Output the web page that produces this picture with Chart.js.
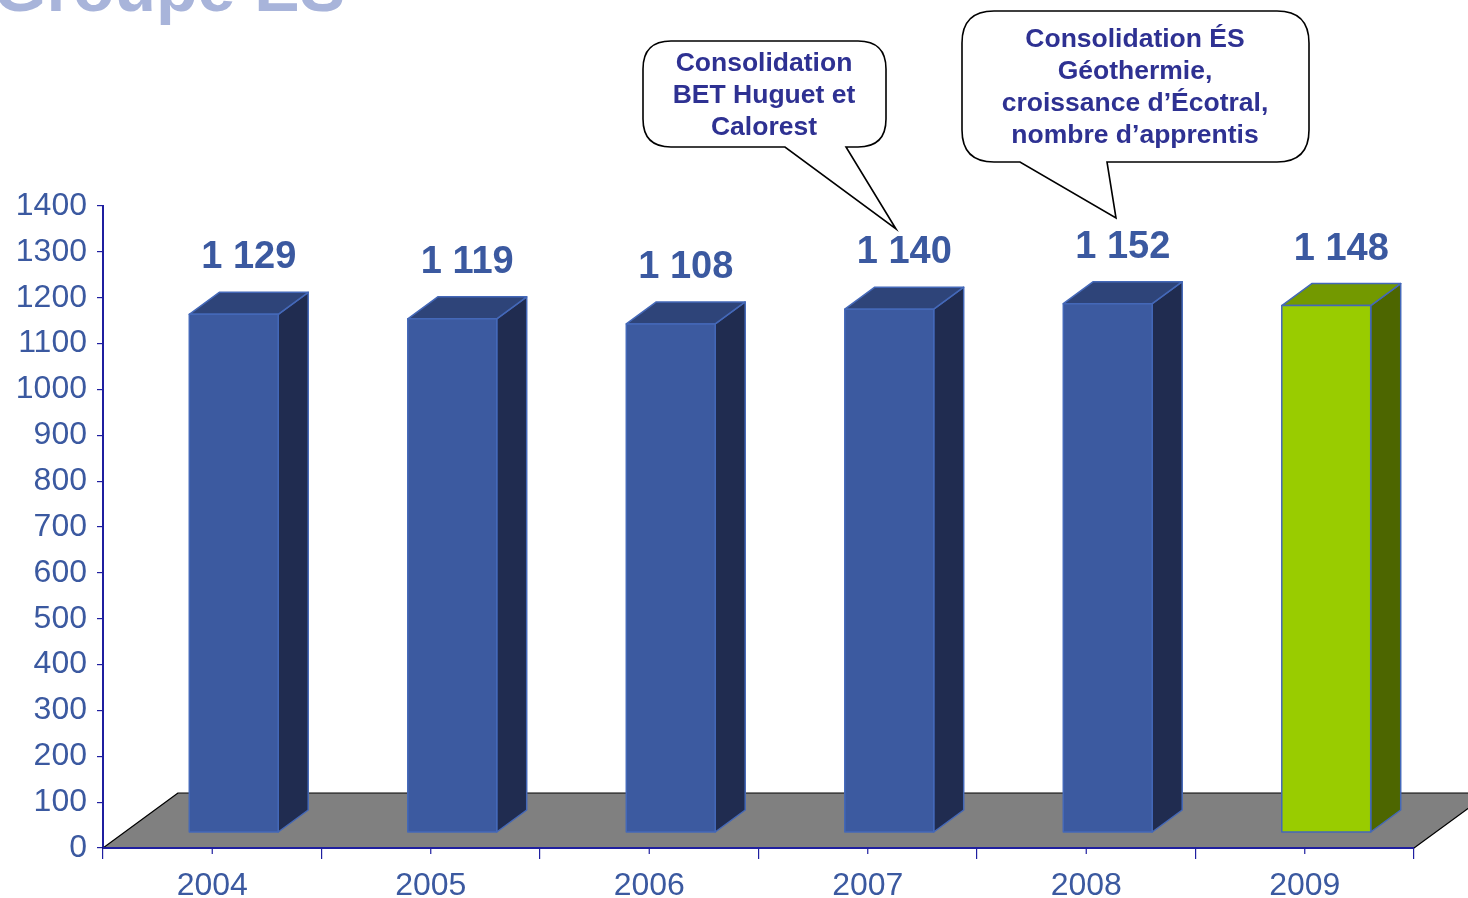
<!DOCTYPE html>
<html>
<head>
<meta charset="utf-8">
<script src="https://cdn.jsdelivr.net/npm/chart.js@4"></script>
<style>
  body { margin: 0; background: #fff; }
</style>
</head>
<body>
<canvas id="effectifChart" width="1468" height="898"></canvas>
<script>
const years = ['2004', '2005', '2006', '2007', '2008', '2009'];
const headcount = [1129, 1119, 1108, 1140, 1152, 1148];
const valueLabels = ['1 129', '1 119', '1 108', '1 140', '1 152', '1 148'];
const yTicks = [0, 100, 200, 300, 400, 500, 600, 700, 800, 900, 1000, 1100, 1200, 1300, 1400];
const titleText = 'Groupe ES';
const callout2007 = ['Consolidation', 'BET Huguet et', 'Calorest'];
const callout2008 = ['Consolidation ÉS', 'Géothermie,', 'croissance d\u2019Écotral,', 'nombre d\u2019apprentis'];

const navy = '#1F1FA0';
const textBlue = '#3B59A0';
const blueFaces = { front: '#3C5AA0', top: '#2E4479', side: '#202C50' };
const greenFaces = { front: '#99CC00', top: '#739900', side: '#4D6600' };

// 3d look: floor depth and bar depth
const floorDx = 75, floorDy = -55;
const barShiftX = 21.5, barShiftY = -16;
const barDx = 30, barDy = -22;

function poly(ctx, pts, fill, stroke, lw) {
  ctx.beginPath();
  ctx.moveTo(pts[0][0], pts[0][1]);
  for (let i = 1; i < pts.length; i++) ctx.lineTo(pts[i][0], pts[i][1]);
  ctx.closePath();
  ctx.fillStyle = fill;
  ctx.fill();
  if (stroke) {
    ctx.strokeStyle = stroke;
    ctx.lineWidth = lw || 1;
    ctx.lineJoin = 'round';
    ctx.stroke();
  }
}

function bubble(ctx, x1, y1, x2, y2, r, tail, lines, cx, firstY, lineH) {
  ctx.save();
  ctx.beginPath();
  ctx.moveTo(x1 + r, y1);
  ctx.lineTo(x2 - r, y1);
  ctx.quadraticCurveTo(x2, y1, x2, y1 + r);
  ctx.lineTo(x2, y2 - r);
  ctx.quadraticCurveTo(x2, y2, x2 - r, y2);
  ctx.lineTo(tail[1][0], y2);
  ctx.lineTo(tail[2][0], tail[2][1]);
  ctx.lineTo(tail[0][0], y2);
  ctx.lineTo(x1 + r, y2);
  ctx.quadraticCurveTo(x1, y2, x1, y2 - r);
  ctx.lineTo(x1, y1 + r);
  ctx.quadraticCurveTo(x1, y1, x1 + r, y1);
  ctx.closePath();
  ctx.fillStyle = '#fff';
  ctx.fill();
  ctx.strokeStyle = '#000';
  ctx.lineWidth = 1.6;
  ctx.stroke();
  ctx.fillStyle = '#2E3192';
  ctx.font = 'bold 26.5px "Liberation Sans", Arial, sans-serif';
  ctx.textAlign = 'center';
  ctx.textBaseline = 'middle';
  lines.forEach((t, i) => ctx.fillText(t, cx, firstY + i * lineH));
  ctx.restore();
}

const bars3d = {
  id: 'bars3d',
  beforeDatasetsDraw(chart) {
    const ctx = chart.ctx;
    const xs = chart.scales.x, ys = chart.scales.y;
    const y0 = ys.getPixelForValue(0);
    const left = xs.left, right = xs.right;
    ctx.save();
    poly(ctx, [[left, y0], [right, y0], [right + floorDx, y0 + floorDy], [left + floorDx, y0 + floorDy]], '#808080', '#000', 1.2);
    ctx.beginPath();
    ctx.moveTo(left, y0);
    ctx.lineTo(right, y0);
    ctx.strokeStyle = navy;
    ctx.lineWidth = 2;
    ctx.stroke();
    // small ticks at category centres
    years.forEach((y, i) => {
      const cx = xs.getPixelForValue(i);
      ctx.beginPath();
      ctx.moveTo(cx, y0);
      ctx.lineTo(cx, y0 + 6);
      ctx.lineWidth = 1.2;
      ctx.stroke();
    });
    ctx.restore();
  },
  afterDatasetsDraw(chart) {
    const ctx = chart.ctx;
    const xs = chart.scales.x, ys = chart.scales.y;
    const catW = (xs.right - xs.left) / years.length;
    const w = catW * 0.407;
    ctx.save();
    headcount.forEach((v, i) => {
      const faces = i === headcount.length - 1 ? greenFaces : blueFaces;
      const cx = xs.getPixelForValue(i) + barShiftX;
      const l = cx - w / 2, r = cx + w / 2;
      const b = ys.getPixelForValue(0) + barShiftY;
      const t = ys.getPixelForValue(v) + barShiftY;
      const edge = '#4468B8';
      poly(ctx, [[r, b], [r + barDx, b + barDy], [r + barDx, t + barDy], [r, t]], faces.side, edge, 1.5);
      poly(ctx, [[l, t], [r, t], [r + barDx, t + barDy], [l + barDx, t + barDy]], faces.top, edge, 1.5);
      poly(ctx, [[l, b], [r, b], [r, t], [l, t]], faces.front, edge, 1.5);
      ctx.fillStyle = textBlue;
      ctx.font = 'bold 38px "Liberation Sans", Arial, sans-serif';
      ctx.textAlign = 'center';
      ctx.textBaseline = 'alphabetic';
      ctx.fillText(valueLabels[i], cx + barDx / 2, t + barDy - 24);
    });
    ctx.restore();
  },
  afterDraw(chart) {
    const ctx = chart.ctx;
    ctx.save();
    ctx.fillStyle = '#A8B4DA';
    ctx.font = 'bold 68px "Liberation Sans", Arial, sans-serif';
    ctx.textAlign = 'right';
    ctx.textBaseline = 'alphabetic';
    ctx.fillText(titleText, 345, 11);
    ctx.restore();
    bubble(ctx, 643, 41, 886, 147, 28, [[785, 147], [846, 147], [896, 229]], callout2007, 764, 64, 32);
    bubble(ctx, 962, 11, 1309, 162, 32, [[1020, 162], [1107, 162], [1116, 218]], callout2008, 1135, 40, 32);
  }
};

const data = {
  labels: years,
  datasets: [{
    label: 'Effectif',
    data: headcount,
    backgroundColor: 'rgba(0,0,0,0)',
    borderWidth: 0
  }]
};

const config = {
  type: 'bar',
  data,
  plugins: [bars3d],
  options: {
    responsive: false,
    devicePixelRatio: 1,
    animation: false,
    layout: { padding: { top: 206, right: 54, left: 0, bottom: 0 } },
    plugins: { legend: { display: false }, tooltip: { enabled: false } },
    scales: {
      x: {
        afterFit(scale) { scale.height = 50; },
        border: { color: navy, width: 2 },
        grid: { offset: true, drawOnChartArea: false, tickLength: 11, color: navy, lineWidth: 1.2 },
        ticks: {
          color: textBlue,
          padding: 8,
          font: { family: '"Liberation Sans", Arial, sans-serif', size: 32 }
        }
      },
      y: {
        min: 0,
        max: 1400,
        afterFit(scale) { scale.width = 103; },
        afterBuildTicks(scale) { scale.ticks = yTicks.map(v => ({ value: v })); },
        border: { color: navy, width: 2 },
        grid: { drawOnChartArea: false, tickLength: 6, color: navy, lineWidth: 1.2 },
        ticks: {
          color: textBlue,
          padding: 10,
          callback: v => String(v),
          font: { family: '"Liberation Sans", Arial, sans-serif', size: 32 }
        }
      }
    }
  }
};

const effectifChart = new Chart(document.getElementById('effectifChart'), config);
</script>
</body>
</html>
